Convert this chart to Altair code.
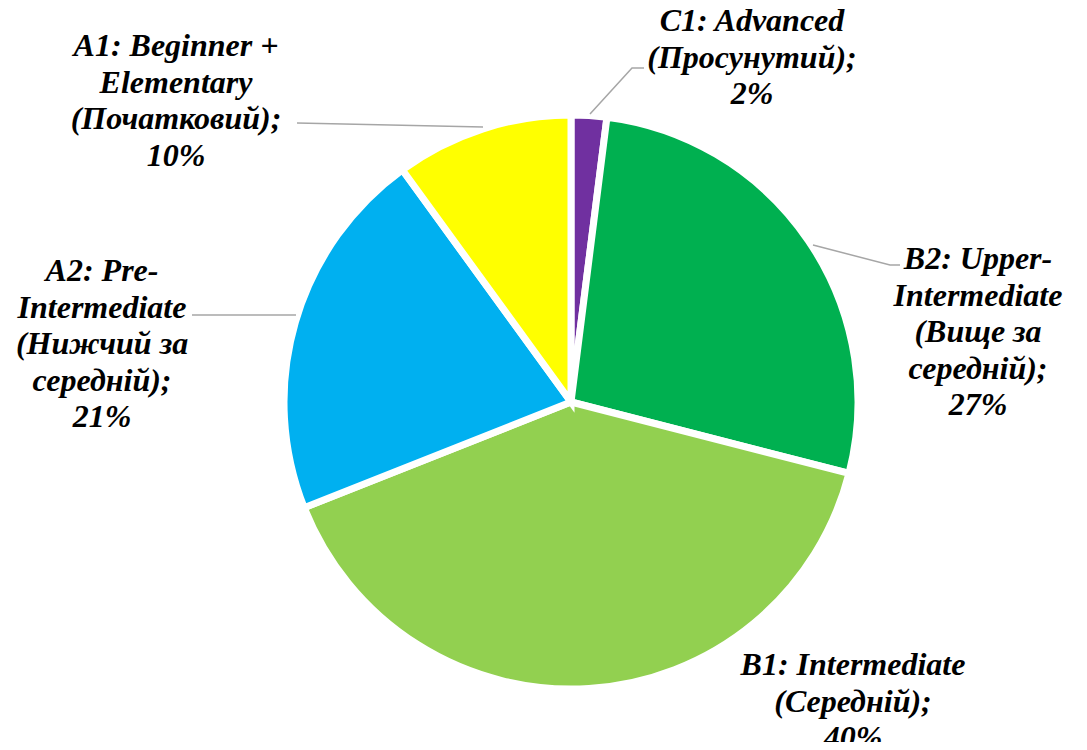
import altair as alt
import pandas as pd

# ---- data ----
levels = ["C1", "B2", "B1", "A2", "A1"]
labels = [
    "C1: Advanced\n(Просунутий);\n2%",
    "B2: Upper-\nIntermediate\n(Вище за\nсередній);\n27%",
    "B1: Intermediate\n(Середній);\n40%",
    "A2: Pre-\nIntermediate\n(Нижчий за\nсередній);\n21%",
    "A1: Beginner +\nElementary\n(Початковий);\n10%",
]
shares = [2, 27, 40, 21, 10]
colors = ["#7030A0", "#00B050", "#92D050", "#00B0F0", "#FFFF00"]

# ---- layout (pixel positions within the chart area) ----
CX, CY, R = 563, 394, 287
label_x = [744, 970, 845, 94, 168]
label_y = [13, 251, 657, 263, 38]   # centre of the first line
leader_level = ["C1", "C1", "C1", "B2", "B2", "B2", "A2", "A2", "A1", "A1"]
leader_order = [0, 1, 2, 0, 1, 2, 0, 1, 0, 1]
leader_x = [582, 624, 636, 805, 882, 892, 288, 184, 475, 289]
leader_y = [106, 60, 60, 237, 257, 257, 307, 307, 119, 115]

df = pd.DataFrame({"level": levels, "label": labels, "share": shares,
                   "order": list(range(len(levels))),
                   "lx": label_x, "ly": label_y})
lead = pd.DataFrame({"level": leader_level, "o": leader_order,
                     "x": leader_x, "y": leader_y})

pie = alt.Chart(df).mark_arc(
    outerRadius=R, stroke="white", strokeWidth=7, strokeJoin="miter"
).encode(
    theta=alt.Theta("share:Q", stack=True),
    order=alt.Order("order:Q"),
    color=alt.Color("level:N", scale=alt.Scale(domain=levels, range=colors), legend=None),
    x=alt.value(CX),
    y=alt.value(CY),
)

leaders = alt.Chart(lead).mark_line(color="#A6A6A6", strokeWidth=1.5).encode(
    x=alt.X("x:Q", scale=None),
    y=alt.Y("y:Q", scale=None),
    detail="level:N",
    order="o:Q",
)

text = alt.Chart(df).mark_text(
    font="serif", fontSize=32, fontWeight="bold",
    fontStyle="italic", lineBreak="\n", lineHeight=36.5, align="center",
    baseline="middle", color="black"
).encode(
    x=alt.X("lx:Q", scale=None),
    y=alt.Y("ly:Q", scale=None),
    text="label:N",
)

chart = alt.layer(pie, leaders, text).properties(
    width=1071, height=734, padding=0,
    autosize=alt.AutoSizeParams(type="none"),
).configure_view(stroke=None)

chart.save("out.html", embed_options={"renderer": "svg", "actions": False})
